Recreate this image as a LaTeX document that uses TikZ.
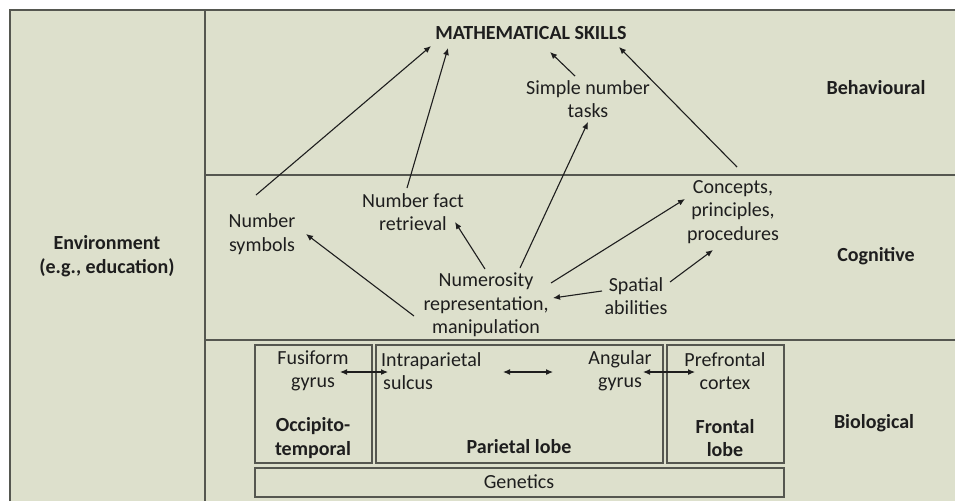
\documentclass[tikz,border=0pt]{standalone}
\usepackage{fontspec}
\setmainfont{Carlito}
\usetikzlibrary{arrows.meta}
\definecolor{bgc}{RGB}{221,224,204}
\definecolor{framec}{RGB}{85,87,80}
\definecolor{txtc}{RGB}{30,30,30}
\tikzset{
  lbl/.style={inner sep=0pt, align=center, text=txtc, font=\fontsize{20}{23.5}\selectfont},
  blbl/.style={lbl, font=\fontsize{20}{23.5}\selectfont\bfseries},
  arr/.style={draw=txtc, line width=1.1pt, -{Latex[length=7pt,width=6pt]}},
  darr/.style={draw=txtc, line width=1.1pt, {Latex[length=7pt,width=6pt]}-{Latex[length=7pt,width=6pt]}},
  frame/.style={draw=framec, line width=1.8pt},
  boxc/.style={draw=framec, line width=1.4pt}
}
\begin{document}
\begin{tikzpicture}[x=1pt,y=-1pt]
\useasboundingbox (0,0) rectangle (955,501);
\fill[white] (0,0) rectangle (955,501);
\fill[bgc] (10,10) rectangle (955,501);
% frame
\draw[frame] (10,501) -- (10,10) -- (955,10);
\draw[frame] (205,10) -- (205,501);
\draw[frame] (205,175) -- (955,175);
\draw[frame] (205,340) -- (955,340);
% boxes
\draw[boxc] (255,345) rectangle (372,463);
\draw[boxc] (376,345) rectangle (663,463);
\draw[boxc] (667,345) rectangle (784,463);
\draw[boxc] (255,468) rectangle (784,497);
% labels
\node[blbl] (math) at (531,33) {MATHEMATICAL SKILLS};
\node[lbl] (simple) at (588,99) {Simple number\\tasks};
\node[blbl] (behav) at (876,88) {Behavioural};
\node[lbl] (nfact) at (413,212) {Number fact\\retrieval};
\node[lbl] (nsym) at (262,234) {Number\\symbols};
\node[blbl] (env) at (107,256) {Environment\\(e.g., education)};
\node[lbl] (concepts) at (733,212) {Concepts,\\principles,\\procedures};
\node[blbl] (cogn) at (876,256) {Cognitive};
\node[lbl] (numer) at (486,305) {Numerosity\\representation,\\manipulation};
\node[lbl] (spatial) at (636,296) {Spatial\\abilities};
\node[lbl] (fusi) at (313,371) {Fusiform\\gyrus};
\node[lbl, align=left, anchor=west] (intra) at (381,371) {Intraparietal\\\hspace*{2pt}sulcus};
\node[lbl] (angular) at (620,371) {Angular\\gyrus};
\node[lbl] (prefr) at (725,371) {Prefrontal\\cortex};
\node[blbl] (occ) at (313,438) {Occipito-\\temporal};
\node[blbl] (parl) at (519,447) {Parietal lobe};
\node[blbl] (frl) at (725,438) {Frontal\\lobe};
\node[blbl] (bio) at (874,423) {Biological};
\node[lbl] (gen) at (519,482) {Genetics};
% arrows
\draw[arr] ([shift={(-6,-39)}]nsym.center) -- ([shift={(-100,13)}]math.center);
\draw[arr] ([shift={(-6,-24)}]nfact.center) -- ([shift={(-83,15)}]math.center);
\draw[arr] ([shift={(-13,-23)}]simple.center) -- ([shift={(19,19)}]math.center);
\draw[arr] ([shift={(4,-45)}]concepts.center) -- ([shift={(88,14)}]math.center);
\draw[arr] ([shift={(34,-37)}]numer.center) -- ([shift={(0,23)}]simple.center);
\draw[arr] ([shift={(-1,-36)}]numer.center) -- ([shift={(42,10)}]nfact.center);
\draw[arr] ([shift={(-72,11)}]numer.center) -- ([shift={(44,0)}]nsym.center);
\draw[arr] ([shift={(65,-22)}]numer.center) -- ([shift={(-48,-13)}]concepts.center);
\draw[arr] ([shift={(-34,-5)}]spatial.center) -- ([shift={(67,-7)}]numer.center);
\draw[arr] ([shift={(34,-14)}]spatial.center) -- ([shift={(-20,38)}]concepts.center);
\draw[darr] ([shift={(27,1)}]fusi.center) -- ([shift={(7,1)}]intra.west);
\draw[darr] ([shift={(122,1)}]intra.west) -- ([shift={(-67,1)}]angular.center);
\draw[darr] ([shift={(23,1)}]angular.center) -- ([shift={(-30,1)}]prefr.center);
\end{tikzpicture}
\end{document}
